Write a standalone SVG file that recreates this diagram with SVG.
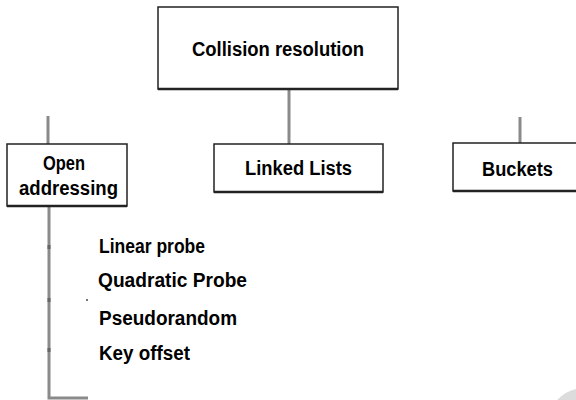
<svg xmlns="http://www.w3.org/2000/svg" width="576" height="400" viewBox="0 0 576 400">
<style>
.box{fill:#fff;stroke:#222;stroke-width:1.5}
.base{stroke:#222;stroke-width:2.5}
.conn{stroke:#8a8a8a;stroke-width:3;fill:none}
.tick{stroke:#666;stroke-width:3}
text{font-family:"Liberation Sans",Arial,sans-serif;font-weight:bold;font-size:19.5px;fill:#000}
.mid{text-anchor:middle}
</style>
<rect width="576" height="400" fill="#fff"/>
<path d="M557,400 Q566,391 576,389 L576,400 Z" fill="#dcdcdc"/>
<g id="connectors">
<line class="conn" x1="289" y1="89" x2="289" y2="144"/>
<line class="conn" x1="48" y1="116" x2="48" y2="144"/>
<line class="conn" x1="520" y1="117" x2="520" y2="143"/>
<polyline class="conn" points="49,206 49,398 88,398"/>
<line class="tick" x1="49" y1="245" x2="49" y2="249"/>
<line class="tick" x1="49" y1="298" x2="49" y2="302"/>
<line class="tick" x1="49" y1="348" x2="49" y2="352"/>
<rect x="86" y="299" width="2" height="2" fill="#777"/>
</g>
<g id="collision-resolution">
<rect class="box" x="158" y="7" width="240" height="82"/>
<line class="base" x1="158" y1="89" x2="398" y2="89"/>
<text class="mid" x="278" y="56" textLength="172" lengthAdjust="spacingAndGlyphs">Collision resolution</text>
</g>
<g id="open-addressing">
<rect class="box" x="7" y="144" width="120" height="62"/>
<line class="base" x1="7" y1="206" x2="127" y2="206"/>
<text class="mid" x="64" y="170" textLength="42" lengthAdjust="spacingAndGlyphs">Open</text>
<text class="mid" x="68.5" y="195" textLength="99" lengthAdjust="spacingAndGlyphs">addressing</text>
</g>
<g id="linked-lists">
<rect class="box" x="214" y="144" width="169" height="48"/>
<line class="base" x1="214" y1="192" x2="383" y2="192"/>
<text class="mid" x="298.5" y="175" textLength="107" lengthAdjust="spacingAndGlyphs">Linked Lists</text>
</g>
<g id="buckets">
<rect class="box" x="453" y="143" width="130" height="48"/>
<line class="base" x1="453" y1="191" x2="583" y2="191"/>
<text class="mid" x="517.5" y="176" textLength="71" lengthAdjust="spacingAndGlyphs">Buckets</text>
</g>
<g id="methods">
<text x="99" y="253" textLength="106" lengthAdjust="spacingAndGlyphs">Linear probe</text>
<text x="98" y="287" textLength="149" lengthAdjust="spacingAndGlyphs">Quadratic Probe</text>
<text x="99" y="325" textLength="138" lengthAdjust="spacingAndGlyphs">Pseudorandom</text>
<text x="99" y="360" textLength="91" lengthAdjust="spacingAndGlyphs">Key offset</text>
</g>
</svg>
